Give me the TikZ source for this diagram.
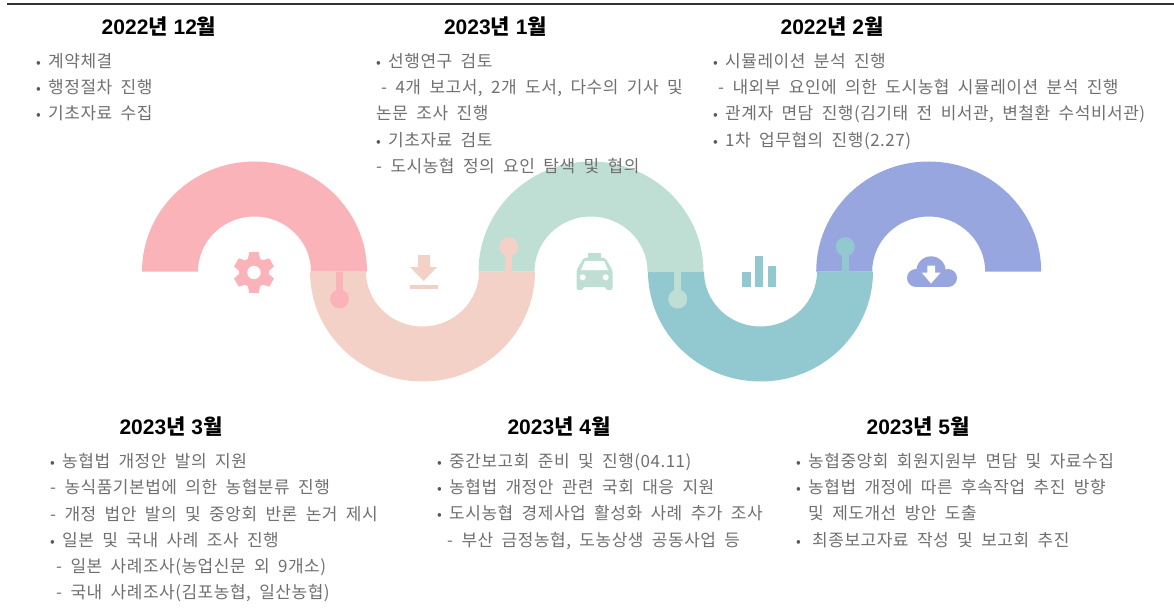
\documentclass[tikz,border=0pt]{standalone}
\usepackage{fontspec}
\setmainfont{Liberation Sans}
\newfontfamily\krfont[LetterSpace=3,WordSpace=1.95]{Noto Sans CJK KR}
\newfontfamily\krhead{Noto Sans CJK KR}
\definecolor{pinkband}{HTML}{FBB3BA}
\definecolor{peachband}{HTML}{F4D1C7}
\definecolor{greenband}{HTML}{BFDFD5}
\definecolor{tealband}{HTML}{92C8D0}
\definecolor{blueband}{HTML}{98A6DF}
\definecolor{bodygray}{HTML}{707070}
\newcommand{\bu}{\makebox[12pt][l]{\fontsize{14}{14}\selectfont\color{black!65}•}}
\newcommand{\sk}[1]{\hspace*{#1pt}}
\newcommand{\yearmonth}[2]{#1{\krhead\bfseries 년} #2{\krhead\bfseries 월}}
\tikzset{
  year/.style = {font = \bfseries\fontsize{21}{22}\selectfont, inner sep = 0pt},
  body/.style = {font = \krfont\fontsize{17}{26.3}\selectfont, text = bodygray, align = left, anchor = north west, inner sep = 0pt}
}
% half ring: #2 is its centre, #3 is 1 for upper and -1 for lower
\newcommand{\band}[3]{
  \fill [#1] (#2 - 112.5, -271.5) arc [start angle = 180, end angle = 180 - #3 * 180, x radius = 112.5, y radius = 110]
    -- (#2 + 56.5, -271.5) arc [start angle = 0, end angle = #3 * 180, x radius = 56.5, y radius = 55] -- cycle;
}
\begin{document}
\begin{tikzpicture}[x = 1pt, y = 1pt]
  \useasboundingbox (0, 0) rectangle (1174, -612);
  \draw [line width = 1.3pt, black!80] (7, -4) -- (1174, -4);

  % bands
  \band{pinkband}{254.5}{1}
  \band{peachband}{422.5}{-1}
  \band{greenband}{591}{1}
  \band{tealband}{760.5}{-1}
  \band{blueband}{928.7}{1}

  % pins
  \foreach \x/\y/\c in {339.5/299/pinkband, 508.7/246.7/peachband, 677.7/299/greenband, 845.3/246.7/tealband} {
    \draw [line width = 6.5pt, \c] (\x, -271.5) -- (\x, -\y);
    \fill [\c] (\x, -\y) circle [radius = 9.5];
  }

  % gear
  \fill [pinkband] (254, -272.5) circle [radius = 15];
  \foreach \a in {90, 150, 210, 270, 330, 30} {
    \fill [pinkband, shift = {(254, -272.5)}, rotate = \a - 90] (-6.5, 12) -- (-4.7, 20.3) -- (4.7, 20.3) -- (6.5, 12) -- cycle;
  }
  \fill [white] (254, -272.5) circle [radius = 6.7];

  % download
  \fill [peachband] (418, -255) -- (430, -255) -- (430, -267) -- (437, -267) -- (423.8, -281) -- (410, -267) -- (418, -267) -- cycle;
  \fill [peachband] (409.5, -285) rectangle (437.5, -288.7);

  % taxi
  \fill [greenband] (588, -252.5) rectangle (600.7, -258.5);
  \fill [greenband, rounded corners = 2pt] (576.5, -290) -- (576.5, -270) -- (584, -257.5) -- (605, -257.5) -- (612.5, -270) -- (612.5, -290) -- (606, -290) -- (606, -287) -- (583, -287) -- (583, -290) -- cycle;
  \fill [white] (581, -270) -- (585, -261) -- (604, -261) -- (608, -270) -- cycle;
  \fill [white] (582.7, -277.3) circle [radius = 3] (605.7, -277.3) circle [radius = 3];

  % bars
  \fill [tealband] (742.3, -272.3) rectangle (750.7, -287.3);
  \fill [tealband] (755, -256) rectangle (763.3, -287.3);
  \fill [tealband] (767.7, -266) rectangle (775.7, -287.3);

  % cloud
  \fill [blueband] (916, -278) circle [radius = 9] (948, -278) circle [radius = 9] (931, -271) circle [radius = 14.7];
  \fill [blueband] (916, -287) rectangle (948, -272);
  \fill [white] (927.3, -265.7) -- (935, -265.7) -- (935, -272.5) -- (940.7, -272.5) -- (931, -283.5) -- (921.7, -272.5) -- (927.3, -272.5) -- cycle;

  % years
  \node [year] (dec) at (159, -27) {\yearmonth{2022}{12}};
  \node [year] (jan) at (495.5, -27) {\yearmonth{2023}{1}};
  \node [year] (feb) at (832, -27) {\yearmonth{2022}{2}};
  \node [year] (mar) at (171, -427) {\yearmonth{2023}{3}};
  \node [year] (apr) at (559, -427) {\yearmonth{2023}{4}};
  \node [year] (may) at (918, -427) {\yearmonth{2023}{5}};

  % texts
  \node [body] (decbody) at (36, -53) {\bu 계약체결\\\bu 행정절차 진행\\\bu 기초자료 수집};
  \node [body] (janbody) at (376, -53) {\bu 선행연구 검토\\\sk{5}- 4개 보고서, 2개 도서, 다수의 기사 및\\논문 조사 진행\\\bu 기초자료 검토\\- 도시농협 정의 요인 탐색 및 협의};
  \node [body] (febbody) at (713, -53) {\bu 시뮬레이션 분석 진행\\\sk{5}- 내외부 요인에 의한 도시농협 시뮬레이션 분석 진행\\\bu 관계자 면담 진행(김기태 전 비서관, 변철환 수석비서관)\\\bu 1차 업무협의 진행(2.27)};
  \node [body] (marbody) at (50, -453) {\bu 농협법 개정안 발의 지원\\- 농식품기본법에 의한 농협분류 진행\\- 개정 법안 발의 및 중앙회 반론 논거 제시\\\bu 일본 및 국내 사례 조사 진행\\\sk{6}- 일본 사례조사(농업신문 외 9개소)\\\sk{6}- 국내 사례조사(김포농협, 일산농협)};
  \node [body] (aprbody) at (437, -453) {\bu 중간보고회 준비 및 진행(04.11)\\\bu 농협법 개정안 관련 국회 대응 지원\\\bu 도시농협 경제사업 활성화 사례 추가 조사\\\sk{10}- 부산 금정농협, 도농상생 공동사업 등};
  \node [body] (maybody) at (796, -453) {\bu 농협중앙회 회원지원부 면담 및 자료수집\\\bu 농협법 개정에 따른 후속작업 추진 방향\\\sk{12}및 제도개선 방안 도출\\\bu\sk{4}최종보고자료 작성 및 보고회 추진};
\end{tikzpicture}
\end{document}
